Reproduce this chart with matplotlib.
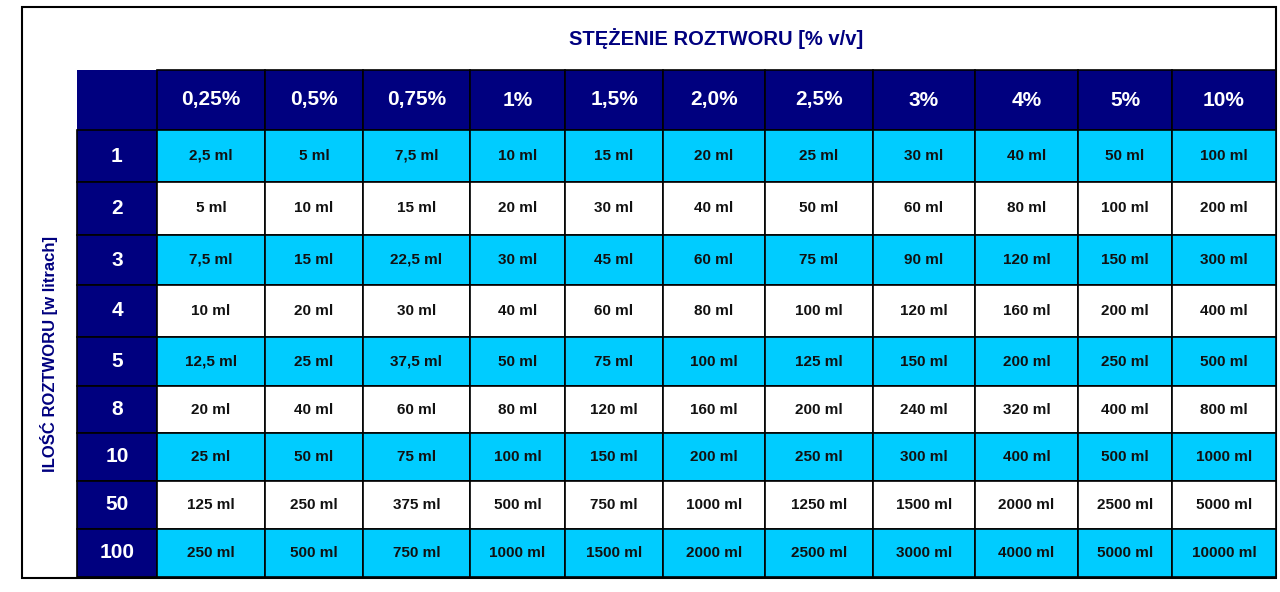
import matplotlib
matplotlib.use("Agg")
import matplotlib.pyplot as plt
from matplotlib.patches import Rectangle

plt.rcParams['font.family'] = ['Liberation Sans', 'DejaVu Sans']

title = "STĘŻENIE ROZTWORU [% v/v]"
ylabel = "ILOŚĆ ROZTWORU [w litrach]"
columns = ["0,25%", "0,5%", "0,75%", "1%", "1,5%", "2,0%", "2,5%", "3%", "4%", "5%", "10%"]
rows = ["1", "2", "3", "4", "5", "8", "10", "50", "100"]
values = [
    ["2,5", "5", "7,5", "10", "15", "20", "25", "30", "40", "50", "100"],
    ["5", "10", "15", "20", "30", "40", "50", "60", "80", "100", "200"],
    ["7,5", "15", "22,5", "30", "45", "60", "75", "90", "120", "150", "300"],
    ["10", "20", "30", "40", "60", "80", "100", "120", "160", "200", "400"],
    ["12,5", "25", "37,5", "50", "75", "100", "125", "150", "200", "250", "500"],
    ["20", "40", "60", "80", "120", "160", "200", "240", "320", "400", "800"],
    ["25", "50", "75", "100", "150", "200", "250", "300", "400", "500", "1000"],
    ["125", "250", "375", "500", "750", "1000", "1250", "1500", "2000", "2500", "5000"],
    ["250", "500", "750", "1000", "1500", "2000", "2500", "3000", "4000", "5000", "10000"],
]

NAVY = "#00007F"
CYAN = "#00CCFF"

# layout (pixel geometry)
xe = [77, 157, 265, 363, 470, 565, 663, 765, 873, 975, 1078, 1172, 1276]
ye = [70, 130, 182, 235, 285, 337, 386, 433, 481, 529, 577]

fig = plt.figure(figsize=(12.8, 5.92), dpi=100)
ax = fig.add_axes([0, 0, 1, 1])
ax.set_xlim(0, 1280)
ax.set_ylim(592, 0)
ax.axis("off")

ax.add_patch(Rectangle((22, 7), 1254, 571, fill=False, ec="black", lw=1.5))
ax.text((xe[1] + xe[-1]) / 2, 39, title, color=NAVY, fontsize=14.5, fontweight="bold",
        ha="center", va="center")
ax.text(49, (ye[1] + ye[-1]) / 2, ylabel, color=NAVY, fontsize=12, fontweight="bold",
        ha="center", va="center", rotation=90)

def cell(x0, x1, y0, y1, fc, txt, tc, fs):
    ax.add_patch(Rectangle((x0, y0), x1 - x0, y1 - y0, fc=fc, ec="black", lw=1.2))
    if txt:
        ax.text((x0 + x1) / 2, (y0 + y1) / 2, txt, color=tc, fontsize=fs,
                fontweight="bold", ha="center", va="center")

ax.add_patch(Rectangle((xe[0], ye[0]), xe[1] - xe[0], ye[1] - ye[0], fc=NAVY, ec=NAVY, lw=0))
for j, c in enumerate(columns):
    cell(xe[j + 1], xe[j + 2], ye[0], ye[1], NAVY, c, "white", 15)
for i, r in enumerate(rows):
    cell(xe[0], xe[1], ye[i + 1], ye[i + 2], NAVY, r, "white", 15)
    fc = CYAN if i % 2 == 0 else "white"
    for j, v in enumerate(values[i]):
        cell(xe[j + 1], xe[j + 2], ye[i + 1], ye[i + 2], fc, v + " ml", "#111111", 11)

fig.savefig("out.png", dpi=100)
